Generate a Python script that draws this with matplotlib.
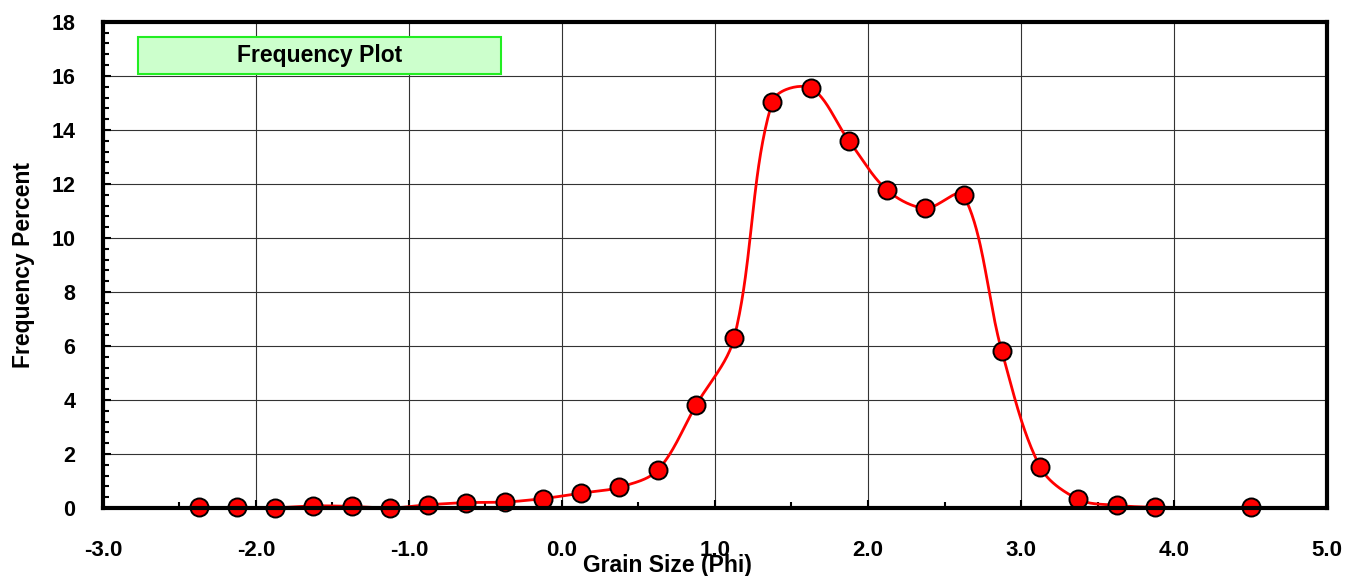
import numpy as np
import matplotlib.pyplot as plt
from matplotlib.patches import Rectangle
from matplotlib.ticker import MultipleLocator, FormatStrFormatter

plt.rcParams['font.family'] = ['Liberation Sans', 'DejaVu Sans']
plt.rcParams['font.weight'] = 'bold'

# grain size (phi) and frequency percent
phi = [-2.375, -2.125, -1.875, -1.625, -1.375, -1.125, -0.875, -0.625, -0.375,
       -0.125, 0.125, 0.375, 0.625, 0.875, 1.125, 1.375, 1.625, 1.875, 2.125,
       2.375, 2.625, 2.875, 3.125, 3.375, 3.625, 3.875, 4.5]
freq = [0.02, 0.02, 0.01, 0.08, 0.06, 0.0, 0.12, 0.2, 0.22,
        0.35, 0.55, 0.77, 1.4, 3.8, 6.3, 15.05, 15.55, 13.6, 11.77,
        11.1, 11.58, 5.8, 1.52, 0.32, 0.1, 0.03, 0.02]


def smooth(x, y, xscale, yscale, n=40):
    # smoothed line like a spreadsheet chart: bezier segments whose
    # control points are scaled by neighbouring segment lengths on screen
    p = np.column_stack([np.asarray(x, float) * xscale, np.asarray(y, float) * yscale])
    p = np.vstack([p[0], p, p[-1]])
    d = np.hypot(*np.diff(p, axis=0).T)
    t = np.linspace(0, 1, n)[:, None]
    out = []
    for i in range(1, len(p) - 2):
        p0, p3 = p[i], p[i + 1]
        r1 = d[i] / max(d[i - 1] + d[i], 1e-9)
        r2 = d[i] / max(d[i] + d[i + 1], 1e-9)
        c1 = p0 + (p[i + 1] - p[i - 1]) * r1 / 3
        c2 = p3 - (p[i + 2] - p[i]) * r2 / 3
        b = (1 - t) ** 3 * p0 + 3 * (1 - t) ** 2 * t * c1 + 3 * (1 - t) * t ** 2 * c2 + t ** 3 * p3
        out.append(b)
    out = np.vstack(out)
    return out[:, 0] / xscale, out[:, 1] / yscale


fig = plt.figure(figsize=(13.46, 5.76), dpi=100)
ax = fig.add_axes([0.0765, 0.118, 0.9094, 0.844])

sx, sy = smooth(phi, freq, 1224 / 8, 486 / 18)
ax.plot(sx, sy, color='red', lw=2, zorder=3)
ax.plot(phi, freq, 'o', color='red', markeredgecolor='black', markersize=13,
        markeredgewidth=1.4, zorder=4, clip_on=False)

ax.set_xlim(-3, 5)
ax.set_ylim(0, 18)
ax.xaxis.set_major_locator(MultipleLocator(1))
ax.xaxis.set_minor_locator(MultipleLocator(0.5))
ax.yaxis.set_major_locator(MultipleLocator(2))
ax.yaxis.set_minor_locator(MultipleLocator(0.4))
ax.xaxis.set_major_formatter(FormatStrFormatter('%.1f'))
ax.grid(True, which='major', color='#333333', lw=0.8)
ax.tick_params(which='both', direction='in', width=1.5)
ax.tick_params(axis='x', labelsize=16, pad=23)
ax.tick_params(axis='y', labelsize=15.5, pad=20)
ax.tick_params(which='major', length=6)
ax.tick_params(which='minor', length=4)
for s in ax.spines.values():
    s.set_linewidth(3)
    s.set_zorder(5)

ax.set_ylabel('Frequency Percent', fontsize=16.5, fontweight='bold', labelpad=12)
fig.text(0.496, 0.019, 'Grain Size (Phi)', fontsize=16.5, fontweight='bold',
         ha='center', va='center')

ax.add_patch(Rectangle((0.0286, 0.893), 0.2966, 0.076, transform=ax.transAxes,
                       fc='#ccffcc', ec='#22ee22', lw=1.5, zorder=6))
ax.text(0.177, 0.930, 'Frequency Plot', transform=ax.transAxes, fontsize=16.5,
        fontweight='bold', ha='center', va='center', zorder=7)

plt.savefig('out.png', dpi=100)
